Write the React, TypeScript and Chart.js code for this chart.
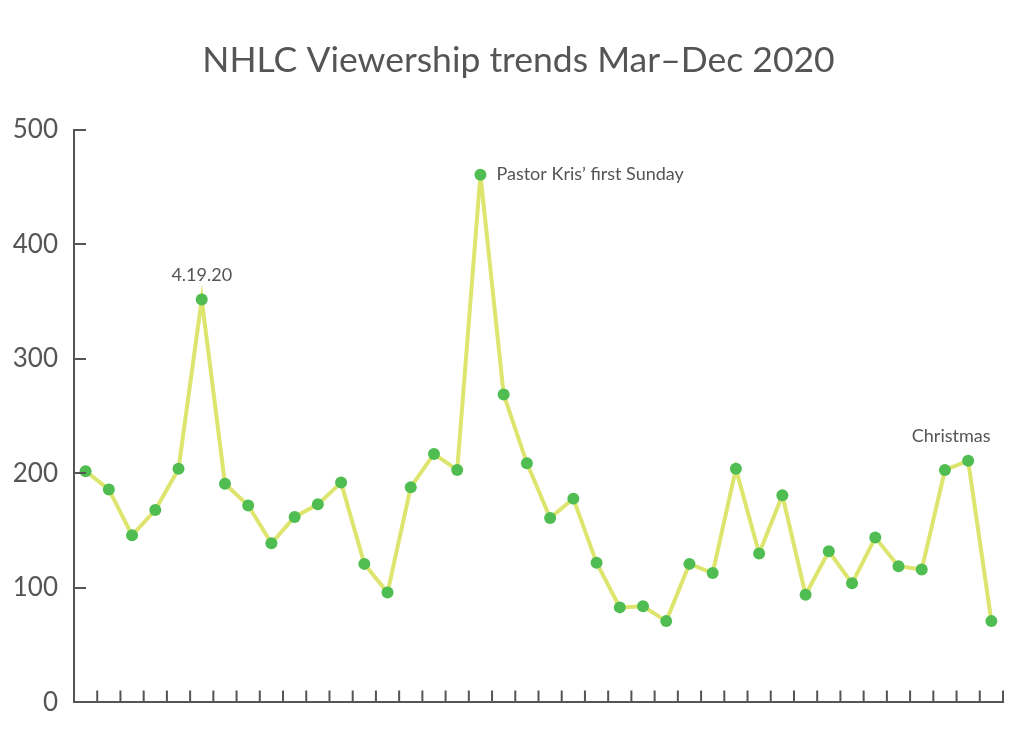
import React, { useEffect, useRef } from "react";
import { Chart, registerables } from "chart.js";

Chart.register(...registerables);

const titleText = "NHLC Viewership trends Mar\u2013Dec 2020";
const categories: string[] = Array.from({ length: 40 }, (_, i) => `Week ${i + 1}`);
const viewers: number[] = [
  202, 186, 146, 168, 204, 352, 191, 172, 139, 162,
  173, 192, 121, 96, 188, 217, 203, 461, 269, 209,
  161, 178, 122, 83, 84, 71, 121, 113, 204, 130,
  181, 94, 132, 104, 144, 119, 116, 203, 211, 71,
];
const yTicks: number[] = [0, 100, 200, 300, 400, 500];
const annotationIdx: number[] = [5, 17, 38];
const annotationText: string[] = ["4.19.20", "Pastor Kris\u2019 first Sunday", "Christmas"];
const annotationPlace: string[] = ["above", "right", "aboveLeft"];

const TEXT = "#555555";
const AXIS = "#555555";
const FONT = "Lato, 'Open Sans', sans-serif";

const inwardTicks = {
  id: "inwardTicks",
  afterDraw(chart: any) {
    const { ctx, scales, chartArea } = chart;
    const x = scales.x;
    const y = scales.y;
    ctx.save();
    ctx.strokeStyle = AXIS;
    ctx.lineWidth = 2;
    ctx.beginPath();
    yTicks.forEach((v) => {
      const py = Math.round(y.getPixelForValue(v));
      if (v === 0) return;
      ctx.moveTo(chartArea.left, py);
      ctx.lineTo(chartArea.left + 12, py);
    });
    const step = x.getPixelForValue(1) - x.getPixelForValue(0);
    for (let i = 0; i < categories.length; i++) {
      const px = x.getPixelForValue(i) + step / 2;
      ctx.moveTo(px, chartArea.bottom);
      ctx.lineTo(px, chartArea.bottom - 12);
    }
    ctx.stroke();

    ctx.fillStyle = TEXT;
    ctx.font = `35.5px ${FONT}`;
    ctx.textAlign = "center";
    ctx.textBaseline = "middle";
    ctx.fillText(titleText, chart.width / 2 + 3, 61);

    ctx.font = `18px ${FONT}`;
    annotationIdx.forEach((idx, k) => {
      const px = x.getPixelForValue(idx);
      const py = y.getPixelForValue(viewers[idx]);
      const place = annotationPlace[k];
      if (place === "above") {
        ctx.textAlign = "center";
        ctx.textBaseline = "bottom";
        ctx.fillText(annotationText[k], px, py - 15);
      } else if (place === "right") {
        ctx.textAlign = "left";
        ctx.textBaseline = "middle";
        ctx.fillText(annotationText[k], px + 16, py);
      } else {
        ctx.textAlign = "center";
        ctx.textBaseline = "bottom";
        ctx.fillText(annotationText[k], px - 17, py - 16);
      }
    });
    ctx.restore();
  },
};

export default function App() {
  const ref = useRef<HTMLCanvasElement | null>(null);
  useEffect(() => {
    if (!ref.current) return;
    const chart = new Chart(ref.current, {
      type: "line",
      data: {
        labels: categories,
        datasets: [
          {
            data: viewers,
            borderColor: "#dde56e",
            borderWidth: 4,
            pointBackgroundColor: "#4fbd52",
            pointBorderColor: "#4fbd52",
            pointRadius: 6,
            pointBorderWidth: 0,
            tension: 0,
          },
        ],
      },
      options: {
        animation: false,
        responsive: false,
        maintainAspectRatio: false,
        layout: { padding: { left: 0, right: 28, top: 130, bottom: 0 } },
        plugins: {
          legend: { display: false },
          tooltip: { enabled: false },
          title: { display: false },
        },
        scales: {
          x: {
            offset: true,
            grid: { display: false, offset: true, drawTicks: false },
            border: { display: true, color: AXIS, width: 2 },
            ticks: { display: false },
            afterFit(scale: any) {
              scale.height = 30;
            },
          },
          y: {
            min: 0,
            max: 500,
            grid: { display: false, drawTicks: false },
            border: { display: true, color: AXIS, width: 2 },
            ticks: {
              stepSize: 100,
              color: TEXT,
              padding: 16,
              font: { family: FONT, size: 26 },
            },
            afterFit(scale: any) {
              scale.width = 74;
            },
          },
        },
      },
      plugins: [inwardTicks],
    });
    return () => chart.destroy();
  }, []);
  return (
    <div style={{ position: "fixed", left: 0, top: 0, width: 1031, height: 734, background: "#fff" }}>
      <canvas ref={ref} width={1031} height={734} style={{ width: 1031, height: 734 }} />
    </div>
  );
}
